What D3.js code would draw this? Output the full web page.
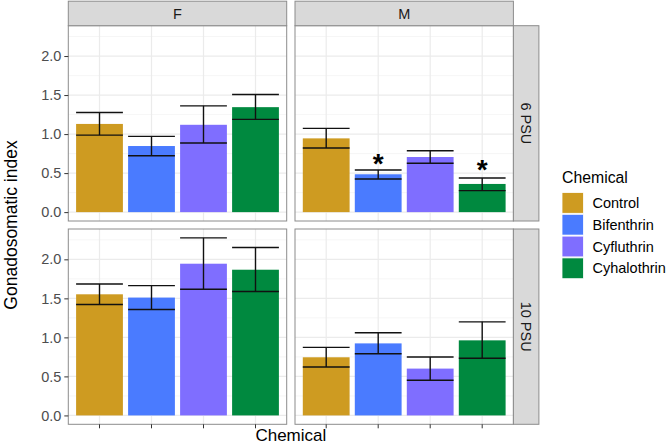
<!DOCTYPE html>
<html><head><meta charset="utf-8">
<script src="https://cdn.jsdelivr.net/npm/d3@7"></script>
<style>body{margin:0;background:#fff}svg{display:block}</style>
</head><body>
<script>
const chemicals = ["Control","Bifenthrin","Cyfluthrin","Cyhalothrin"];
const colors = ["#CE9B21","#4A7BFF","#7F6EFF","#00893F"];
const sexes = ["F","M"];
const salinities = ["6 PSU","10 PSU"];
// means, lower and upper error bounds per panel [salinity][sex][chemical]
const mean6F  = [1.13, 0.847, 1.119, 1.345];
const low6F   = [0.987, 0.723, 0.885, 1.188];
const up6F    = [1.277, 0.97, 1.362, 1.507];
const mean6M  = [0.945, 0.485, 0.706, 0.361];
const low6M   = [0.821, 0.425, 0.626, 0.276];
const up6M    = [1.073, 0.54, 0.787, 0.438];
const mean10F = [1.552, 1.51, 1.944, 1.867];
const low10F  = [1.421, 1.357, 1.616, 1.587];
const up10F   = [1.684, 1.663, 2.275, 2.152];
const mean10M = [0.745, 0.923, 0.6, 0.962];
const low10M  = [0.621, 0.791, 0.451, 0.732];
const up10M   = [0.872, 1.059, 0.749, 1.199];
// significance markers (panel 6 PSU / M)
const sigChem = ["Bifenthrin","Cyhalothrin"];
const sigY = [0.71, 0.626];
const yTicks = [0, 0.5, 1.0, 1.5, 2.0];
const yMinor = [0.25, 0.75, 1.25, 1.75, 2.25];

const panels = [
  {sal:"6 PSU", sex:"F", mean:mean6F, low:low6F, up:up6F},
  {sal:"6 PSU", sex:"M", mean:mean6M, low:low6M, up:up6M, sig:true},
  {sal:"10 PSU", sex:"F", mean:mean10F, low:low10F, up:up10F},
  {sal:"10 PSU", sex:"M", mean:mean10M, low:low10M, up:up10M}
];

const W = 666, H = 445;
const font = "'Liberation Sans', Arial, Helvetica, sans-serif";
const svg = d3.select("body").append("svg").attr("width", W).attr("height", H)
  .style("font-family", font);

const colX = {F:68.3, M:295};
const rowY = {"6 PSU":25.7, "10 PSU":229};
const pw = 218.4, ph = 195.3;

const ymaxData = d3.max([up6F, up6M, up10F, up10M].flat());
const ex = 0.05 * ymaxData;
const y = d3.scaleLinear().domain([-ex, ymaxData + ex]).range([ph, 0]);
const x = d3.scaleBand().domain(chemicals).range([0, pw]).paddingInner(0.1).paddingOuter(0.15);
const color = d3.scaleOrdinal().domain(chemicals).range(colors);

panels.forEach(p => {
  const g = svg.append("g").attr("transform", `translate(${colX[p.sex]},${rowY[p.sal]})`);
  g.append("rect").attr("width", pw).attr("height", ph).attr("fill", "#fff");
  // minor grid
  g.selectAll(".ymin").data(yMinor).join("line")
    .attr("x1", 0).attr("x2", pw).attr("y1", d => y(d)).attr("y2", d => y(d))
    .attr("stroke", "#f2f2f2").attr("stroke-width", 0.7);
  g.selectAll(".ymaj").data(yTicks).join("line")
    .attr("x1", 0).attr("x2", pw).attr("y1", d => y(d)).attr("y2", d => y(d))
    .attr("stroke", "#ebebeb").attr("stroke-width", 1.2);
  g.selectAll(".xmaj").data(chemicals).join("line")
    .attr("x1", d => x(d) + x.bandwidth()/2).attr("x2", d => x(d) + x.bandwidth()/2)
    .attr("y1", 0).attr("y2", ph)
    .attr("stroke", "#ebebeb").attr("stroke-width", 1.2);
  // bars
  g.selectAll(".bar").data(chemicals).join("rect")
    .attr("x", d => x(d)).attr("width", x.bandwidth())
    .attr("y", (d,i) => y(p.mean[i])).attr("height", (d,i) => y(0) - y(p.mean[i]))
    .attr("fill", d => color(d));
  // error bars
  const eb = g.selectAll(".eb").data(chemicals).join("g");
  eb.append("line")
    .attr("x1", d => x(d) + x.bandwidth()/2).attr("x2", d => x(d) + x.bandwidth()/2)
    .attr("y1", (d,i) => y(p.low[i])).attr("y2", (d,i) => y(p.up[i]));
  eb.append("line")
    .attr("x1", d => x(d)).attr("x2", d => x(d) + x.bandwidth())
    .attr("y1", (d,i) => y(p.low[i])).attr("y2", (d,i) => y(p.low[i]));
  eb.append("line")
    .attr("x1", d => x(d)).attr("x2", d => x(d) + x.bandwidth())
    .attr("y1", (d,i) => y(p.up[i])).attr("y2", (d,i) => y(p.up[i]));
  eb.selectAll("line").attr("stroke", "#111").attr("stroke-width", 1.4);
  if (p.sig) {
    const fs = 28;
    g.selectAll(".sig").data(sigChem).join("text")
      .attr("x", d => x(d) + x.bandwidth()/2)
      .attr("y", (d,i) => y(sigY[i]) + 0.57*fs)
      .attr("text-anchor", "middle").attr("font-size", fs).attr("font-weight", "bold")
      .attr("fill", "#000").text("*");
  }
  g.append("rect").attr("width", pw).attr("height", ph).attr("fill", "none")
    .attr("stroke", "#8c8c8c").attr("stroke-width", 1);
  // y axis on left column
  if (p.sex === "F") {
    const ax = g.append("g").call(d3.axisLeft(y).tickValues(yTicks).tickFormat(d3.format(".1f")).tickSize(4).tickPadding(3));
    ax.select(".domain").remove();
    ax.selectAll(".tick line").attr("stroke", "#333").attr("stroke-width", 1);
    ax.selectAll(".tick text").attr("fill", "#4d4d4d").attr("font-size", 14.5).attr("font-family", font);
  }
  // x ticks (no labels)
  if (p.sal === "10 PSU") {
    g.selectAll(".xt").data(chemicals).join("line")
      .attr("x1", d => x(d) + x.bandwidth()/2).attr("x2", d => x(d) + x.bandwidth()/2)
      .attr("y1", ph).attr("y2", ph + 4).attr("stroke", "#333");
  }
});

// top strips
sexes.forEach(s => {
  const g = svg.append("g").attr("transform", `translate(${colX[s]},1.2)`);
  g.append("rect").attr("width", pw).attr("height", 24.5).attr("fill", "#d9d9d9")
    .attr("stroke", "#8c8c8c").attr("stroke-width", 1);
  g.append("text").attr("x", pw/2).attr("y", 12.8).attr("dy", "0.35em")
    .attr("text-anchor", "middle").attr("font-size", 14.5).attr("fill", "#1a1a1a").text(s);
});
// right strips
salinities.forEach(s => {
  const g = svg.append("g").attr("transform", `translate(${colX.M + pw},${rowY[s]})`);
  g.append("rect").attr("width", 25.5).attr("height", ph).attr("fill", "#d9d9d9")
    .attr("stroke", "#8c8c8c").attr("stroke-width", 1);
  g.append("text").attr("transform", `translate(12.7,${ph/2}) rotate(90)`)
    .attr("dy", "0.35em").attr("text-anchor", "middle").attr("font-size", 14.5)
    .attr("fill", "#1a1a1a").text(s);
});

// axis titles
svg.append("text").attr("x", (colX.F + colX.M + pw)/2).attr("y", 435.5).attr("dy", "0.35em")
  .attr("text-anchor", "middle").attr("font-size", 17).attr("fill", "#000").text("Chemical");
svg.append("text").attr("transform", `translate(10.5,${(rowY["6 PSU"] + rowY["10 PSU"] + ph)/2}) rotate(-90)`)
  .attr("dy", "0.35em").attr("text-anchor", "middle").attr("font-size", 17.5).attr("fill", "#000")
  .text("Gonadosomatic index");

// legend
const lg = svg.append("g").attr("transform", "translate(562,166)");
lg.append("text").attr("x", 0).attr("y", 11).attr("dy", "0.35em").attr("font-size", 15.8)
  .attr("fill", "#000").text("Chemical");
const items = lg.selectAll(".li").data(chemicals).join("g")
  .attr("transform", (d,i) => `translate(0,${26.5 + i*21.8})`);
items.append("rect").attr("width", 21.5).attr("height", 20.8).attr("fill", d => color(d))
  .attr("stroke", "#fff").attr("stroke-width", 0.8);
items.append("text").attr("x", 30.5).attr("y", 10.4).attr("dy", "0.35em").attr("font-size", 14.5)
  .attr("fill", "#000").text(d => d);
</script>
</body></html>
